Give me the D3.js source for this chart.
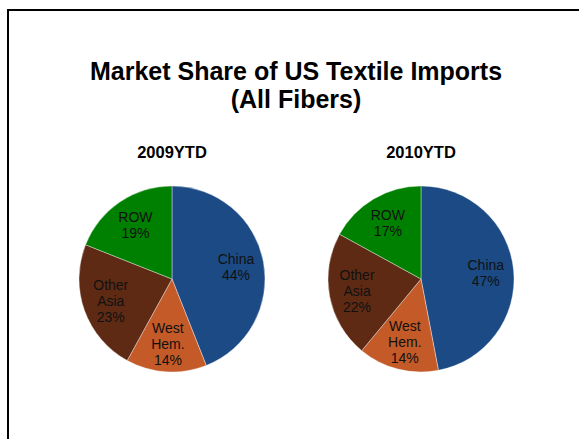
<!DOCTYPE html>
<html>
<head>
<meta charset="utf-8">
<script src="https://cdn.jsdelivr.net/npm/d3@7"></script>
<style>
  body { margin: 0; background: #fff; }
  svg { display: block; font-family: "Liberation Sans", Arial, sans-serif; }
</style>
</head>
<body>
<svg id="chart"></svg>
<script>
const width = 579
const height = 439

// data
const regions = ['China', 'West Hem.', 'Other Asia', 'ROW']
const labelLines = [['China'], ['West', 'Hem.'], ['Other', 'Asia'], ['ROW']]
const years = ['2009YTD', '2010YTD']
const share2009 = [44, 14, 23, 19]
const share2010 = [47, 14, 22, 17]
const titleLines = ['Market Share of US Textile Imports', '(All Fibers)']

const colors = ['#1b4a84', '#c35a28', '#5e2a14', '#008000']
const radius = 93
const pieY = 279

const svg = d3.select('#chart').attr('width', width).attr('height', height)

// frame of the slide (no bottom or right edge visible)
svg.append('path')
  .attr('d', `M8,440 L8,10 L580,10`)
  .attr('fill', 'none')
  .attr('stroke', '#000')
  .attr('stroke-width', 2)

// title
svg.append('text')
  .attr('x', 296)
  .attr('y', 80)
  .attr('text-anchor', 'middle')
  .attr('font-size', 25)
  .attr('font-weight', 'bold')
  .selectAll('tspan').data(titleLines).enter().append('tspan')
  .attr('x', 296)
  .attr('dy', (d, i) => i === 0 ? 0 : 28)
  .text(d => d)

const x = d3.scalePoint().domain(years).range([172, 421])
const color = d3.scaleOrdinal().domain(regions).range(colors)

const pie = d3.pie().sort(null).value(d => d.value)
const arc = d3.arc().innerRadius(0).outerRadius(radius)
const labelArc = d3.arc().innerRadius(radius * 0.7).outerRadius(radius * 0.7)

const series = [share2009, share2010]

years.forEach((year, yi) => {
  const rows = regions.map((r, i) => ({region: r, value: series[yi][i], lines: labelLines[i]}))
  const g = svg.append('g').attr('transform', `translate(${x(year)}, ${pieY})`)

  g.append('text')
    .attr('x', 0)
    .attr('y', -121)
    .attr('text-anchor', 'middle')
    .attr('font-size', 16.5)
    .attr('font-weight', 'bold')
    .text(year)

  const slices = g.selectAll('g.slice').data(pie(rows)).enter().append('g').attr('class', 'slice')

  slices.append('path')
    .attr('d', arc)
    .attr('fill', d => color(d.data.region))
    .attr('stroke', '#fff')
    .attr('stroke-opacity', 0.5)
    .attr('stroke-width', 0.75)

  // labels: name lines plus percentage, centred on the label arc
  slices.append('text')
    .attr('transform', d => `translate(${labelArc.centroid(d)})`)
    .attr('text-anchor', 'middle')
    .attr('font-size', 14)
    .attr('fill', '#111')
    .each(function (d) {
      const lines = [...d.data.lines, d.data.value + '%']
      const lh = 16
      const top = -(lines.length - 1) * lh / 2 + 5
      d3.select(this).selectAll('tspan').data(lines).enter().append('tspan')
        .attr('x', 0)
        .attr('y', (t, i) => top + i * lh)
        .text(t => t)
    })
})
</script>
</body>
</html>
